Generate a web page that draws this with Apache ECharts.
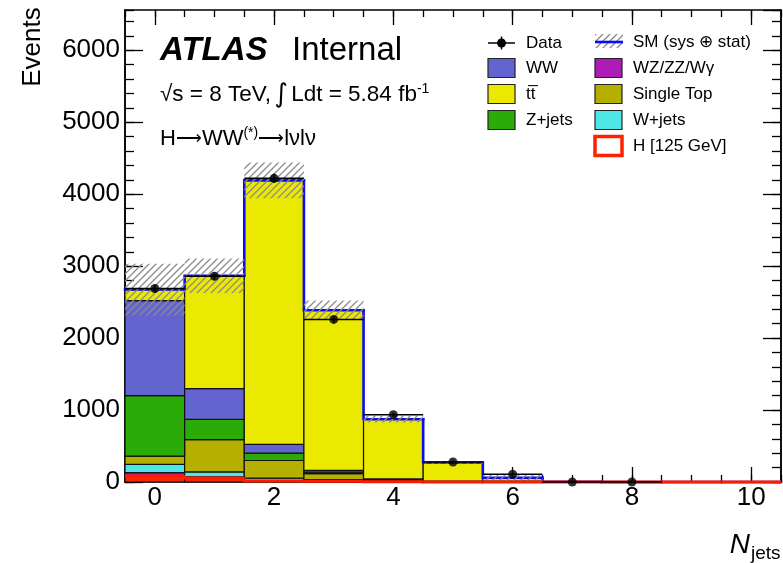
<!DOCTYPE html>
<html>
<head>
<meta charset="utf-8">
<script src="https://cdn.jsdelivr.net/npm/echarts@6/dist/echarts.min.js"></script>
<style>
  html, body { margin: 0; padding: 0; background: #fff; }
  #main { width: 783px; height: 563px; }
</style>
</head>
<body>
<div id="main"></div>
<script>
// N_jets bins
var nJets = [0, 1, 2, 3, 4, 5, 6, 7, 8, 9, 10];
var xTickLabels = ['0', '1', '2', '3', '4', '5', '6', '7', '8', '9', '10'];

// stacked backgrounds, bottom to top
var higgs     = [85, 55, 15, 12, 5, 1, 0.5, 0.2, 0, 0, 0];
var wzzzwg    = [45, 15, 5, 5, 2, 1, 0.5, 0, 0, 0, 0];
var wjets     = [115, 70, 33, 15, 5, 1, 1, 0, 0, 0, 0];
var singleTop = [115, 450, 246, 85, 20, 5, 8, 0, 0, 0, 0];
var zjets     = [840, 280, 102, 20, 5, 1, 1, 0, 0, 0, 0];
var ww        = [1320, 427, 121, 25, 6, 2, 3, 0, 0, 0, 0];
var ttbar     = [155, 1570, 3670, 2225, 830, 259, 45, 3, 1, 0, 0];

// SM uncertainty (sys + stat) and data
var smErr = [360, 240, 250, 135, 47, 15, 45, 2, 1, 0, 0];
var data  = [2690, 2860, 4220, 2260, 935, 278, 107, 0, 0, null, null];

var FONT = '"Liberation Sans", Arial, Helvetica, sans-serif';

function hatchCanvas() {
  var c = document.createElement('canvas');
  c.width = 7; c.height = 7;
  var g = c.getContext('2d');
  g.strokeStyle = '#8c8c8c';
  g.lineWidth = 1.3;
  g.beginPath();
  g.moveTo(0, 7); g.lineTo(7, 0);
  g.moveTo(-2, 2); g.lineTo(2, -2);
  g.moveTo(5, 9); g.lineTo(9, 5);
  g.stroke();
  return c;
}
var hatch = { image: hatchCanvas(), repeat: 'repeat' };

var comps = [
  { name: 'H [125 GeV]', vals: higgs, color: '#ff2200' },
  { name: 'WZ/ZZ/W\u03b3', vals: wzzzwg, color: '#ad1cb6' },
  { name: 'W+jets', vals: wjets, color: '#4fe6e6' },
  { name: 'Single Top', vals: singleTop, color: '#b5b000' },
  { name: 'Z+jets', vals: zjets, color: '#2aab08' },
  { name: 'WW', vals: ww, color: '#6464d0' },
  { name: 'tt\u0305', vals: ttbar, color: '#ece900' }
];

var series = [];
var base = nJets.map(function () { return 0; });
comps.forEach(function (c) {
  var rows = nJets.map(function (n, i) { return [n, base[i], base[i] + c.vals[i]]; });
  series.push({
    type: 'custom', name: c.name, silent: true, animation: false,
    data: rows,
    renderItem: function (params, api) {
      var lo = api.value(1), hi = api.value(2);
      if (hi - lo <= 0) return null;
      var p0 = api.coord([api.value(0) - 0.5, lo]);
      var p1 = api.coord([api.value(0) + 0.5, hi]);
      return {
        type: 'rect',
        shape: { x: p0[0], y: p1[1], width: p1[0] - p0[0], height: p0[1] - p1[1] },
        style: { fill: c.color, stroke: '#111', lineWidth: 1.2 }
      };
    }
  });
  base = base.map(function (b, i) { return b + c.vals[i]; });
});
var smTotal = base;

// SM total step line
series.push({
  type: 'custom', silent: true, animation: false,
  data: nJets.map(function (n, i) { return [n, i > 0 ? smTotal[i - 1] : smTotal[i], smTotal[i]]; }),
  renderItem: function (params, api) {
    var x = api.value(0);
    var a = api.coord([x - 0.5, api.value(1)]);
    var b = api.coord([x - 0.5, api.value(2)]);
    var c = api.coord([x + 0.5, api.value(2)]);
    return {
      type: 'polyline',
      shape: { points: [a, b, c] },
      style: { stroke: '#0c0cf4', lineWidth: 2.6, fill: null, lineCap: 'square' }
    };
  }
});

// uncertainty band
series.push({
  type: 'custom', silent: true, animation: false,
  data: nJets.map(function (n, i) { return [n, smTotal[i] - smErr[i], smTotal[i] + smErr[i]]; }),
  renderItem: function (params, api) {
    var lo = Math.max(0, api.value(1)), hi = api.value(2);
    if (hi - lo <= 0) return null;
    var p0 = api.coord([api.value(0) - 0.5, lo]);
    var p1 = api.coord([api.value(0) + 0.5, hi]);
    return {
      type: 'rect',
      shape: { x: p0[0], y: p1[1], width: p1[0] - p0[0], height: p0[1] - p1[1] },
      style: { fill: hatch }
    };
  }
});

// Higgs outline
series.push({
  type: 'custom', silent: true, animation: false,
  data: nJets.map(function (n, i) { return [n, i > 0 ? higgs[i - 1] : 0, higgs[i]]; }),
  renderItem: function (params, api) {
    var x = api.value(0);
    var a = api.coord([x - 0.5, api.value(1)]);
    var b = api.coord([x - 0.5, api.value(2)]);
    var c = api.coord([x + 0.5, api.value(2)]);
    var pts = x === 0 ? [b, c] : [a, b, c];
    return {
      type: 'polyline',
      shape: { points: pts },
      style: { stroke: '#ff1a00', lineWidth: 3, fill: null }
    };
  }
});

// data error bars
var dataPts = [];
nJets.forEach(function (n, i) { if (data[i] !== null) dataPts.push([n, data[i]]); });
series.push({
  type: 'custom', silent: true, animation: false,
  data: dataPts,
  renderItem: function (params, api) {
    var x = api.value(0), v = api.value(1), e = Math.sqrt(v);
    var l = api.coord([x - 0.5, v]), r = api.coord([x + 0.5, v]);
    var t = api.coord([x, v + e]), b = api.coord([x, Math.max(0, v - e)]);
    return {
      type: 'group',
      children: [
        { type: 'line', shape: { x1: l[0], y1: l[1], x2: r[0], y2: r[1] }, style: { stroke: '#000', lineWidth: 1.5 } },
        { type: 'line', shape: { x1: t[0], y1: t[1], x2: b[0], y2: b[1] }, style: { stroke: '#000', lineWidth: 1.5 } }
      ]
    };
  }
});
series.push({
  type: 'scatter', silent: true, animation: false,
  data: dataPts, symbol: 'circle', symbolSize: 9,
  itemStyle: { color: '#000' }
});

var lineStyle = { color: '#000', width: 1.5 };
var tickStyle = { color: '#000', width: 1.3 };

function minorX(pos) {
  return {
    type: 'value', position: pos, min: -0.5, max: 10.5, interval: 0.5,
    axisLine: { show: true, onZero: false, lineStyle: lineStyle },
    axisTick: { show: true, inside: true, length: 7, lineStyle: tickStyle },
    axisLabel: { show: false }, splitLine: { show: false }
  };
}
function majorX(pos, showLabel) {
  return {
    type: 'category', position: pos, data: xTickLabels, boundaryGap: true,
    axisLine: { show: false, onZero: false },
    axisTick: { show: true, inside: true, alignWithLabel: true, interval: 1, length: 15, lineStyle: tickStyle },
    axisLabel: { show: showLabel, interval: 1, margin: 3, color: '#000', fontSize: 26, fontFamily: FONT },
    splitLine: { show: false }
  };
}
function yAx(pos, step, len, showLabel) {
  return {
    type: 'value', position: pos, min: 0, max: 6560, interval: step,
    axisLine: { show: true, onZero: false, lineStyle: lineStyle },
    axisTick: { show: true, inside: true, length: len, lineStyle: tickStyle },
    axisLabel: { show: showLabel, showMaxLabel: false, margin: 5, color: '#000', fontSize: 26, fontFamily: FONT,
      formatter: function (v) { return String(v); } },
    splitLine: { show: false }
  };
}

function legendBox(x, y, fill, stroke, lw) {
  return { type: 'rect', shape: { x: x, y: y - 9.5, width: 27, height: 19 },
    style: { fill: fill, stroke: stroke || '#222', lineWidth: lw || 1.2 }, z: 100 };
}
function legendText(x, y, text) {
  return { type: 'text', x: x, y: y, z: 100,
    style: { text: text, font: '17px ' + FONT, fill: '#000', textAlign: 'left', textVerticalAlign: 'middle' } };
}

var c1x = 488, c1t = 526, c2x = 595, c2t = 633;
var rows = [43, 68, 94, 120, 146];

var graphics = [
  { type: 'text', x: 33, y: 47, rotation: Math.PI / 2, z: 100,
    style: { text: 'Events', font: '26px ' + FONT, fill: '#000', textAlign: 'center', textVerticalAlign: 'middle' } },
  { type: 'text', x: 750, y: 545, z: 100,
    style: { text: 'N', font: 'italic 28px ' + FONT, fill: '#000', textAlign: 'right', textVerticalAlign: 'middle' } },
  { type: 'text', x: 751, y: 554, z: 100,
    style: { text: 'jets', font: '19px ' + FONT, fill: '#000', textAlign: 'left', textVerticalAlign: 'middle' } },
  { type: 'text', x: 160, y: 51, z: 100,
    style: { text: 'ATLAS', font: 'italic bold 33px ' + FONT, fill: '#000', textAlign: 'left', textVerticalAlign: 'middle' } },
  { type: 'text', x: 292, y: 51, z: 100,
    style: { text: 'Internal', font: '33px ' + FONT, fill: '#000', textAlign: 'left', textVerticalAlign: 'middle' } },
  { type: 'text', x: 160, y: 95, z: 100,
    style: { text: '{t|\u221as = 8 TeV,} {i|\u222b} {t|Ldt = 5.84 fb}{s|-1}', fill: '#000', textAlign: 'left', textVerticalAlign: 'middle',
      rich: { t: { font: '22.5px ' + FONT, fill: '#000' }, i: { font: '26px "DejaVu Sans"', fill: '#000' },
              s: { font: '14px ' + FONT, fill: '#000', padding: [0, 0, 12, 0] } } } },
  { type: 'text', x: 160, y: 139, z: 100,
    style: { text: '{t|H}{a|\u27f6}{t|WW}{s|(*)}{a|\u27f6}{t|l\u03bdl\u03bd}', fill: '#000', textAlign: 'left', textVerticalAlign: 'middle',
      rich: { t: { font: '22px ' + FONT, fill: '#000' }, a: { font: '18px ' + FONT, fill: '#000' },
              s: { font: '14px ' + FONT, fill: '#000', padding: [0, 0, 12, 0] } } } },

  // legend, column 1
  { type: 'line', shape: { x1: c1x, y1: rows[0], x2: c1x + 27, y2: rows[0] }, style: { stroke: '#000', lineWidth: 1.5 }, z: 100 },
  { type: 'line', shape: { x1: c1x + 13.5, y1: rows[0] - 6.5, x2: c1x + 13.5, y2: rows[0] + 6.5 }, style: { stroke: '#000', lineWidth: 1.5 }, z: 100 },
  { type: 'circle', shape: { cx: c1x + 13.5, cy: rows[0], r: 4.5 }, style: { fill: '#000' }, z: 100 },
  legendText(c1t, rows[0], 'Data'),
  legendBox(c1x, rows[1], comps[5].color), legendText(c1t, rows[1], 'WW'),
  legendBox(c1x, rows[2], comps[6].color), legendText(c1t, rows[2], 'tt\u0305'),
  legendBox(c1x, rows[3], comps[4].color), legendText(c1t, rows[3], 'Z+jets'),

  // legend, column 2
  { type: 'rect', shape: { x: c2x, y: rows[0] - 9, width: 28, height: 14 }, style: { fill: hatch }, z: 100 },
  { type: 'line', shape: { x1: c2x, y1: rows[0] - 1, x2: c2x + 28, y2: rows[0] - 1 }, style: { stroke: '#0c0cf4', lineWidth: 2.6 }, z: 100 },
  legendText(c2t, rows[0] - 1, 'SM (sys \u2295 stat)'),
  legendBox(c2x, rows[1], comps[1].color), legendText(c2t, rows[1], 'WZ/ZZ/W\u03b3'),
  legendBox(c2x, rows[2], comps[3].color), legendText(c2t, rows[2], 'Single Top'),
  legendBox(c2x, rows[3], comps[2].color), legendText(c2t, rows[3], 'W+jets'),
  legendBox(c2x, rows[4], '#fff', '#ff2200', 3.5), legendText(c2t, rows[4], 'H [125 GeV]')
];

var myChart = echarts.init(document.getElementById('main'), null, { renderer: 'canvas' });
myChart.setOption({
  backgroundColor: '#fff',
  animation: false,
  grid: { left: 125, right: 2, top: 10, bottom: 81 },
  xAxis: [minorX('bottom'), majorX('bottom', true), minorX('top'), majorX('top', false)],
  yAxis: [yAx('left', 1000, 18, true), yAx('left', 200, 9, false), yAx('right', 1000, 18, false), yAx('right', 200, 9, false)],
  graphic: graphics,
  series: series
});
</script>
</body>
</html>
